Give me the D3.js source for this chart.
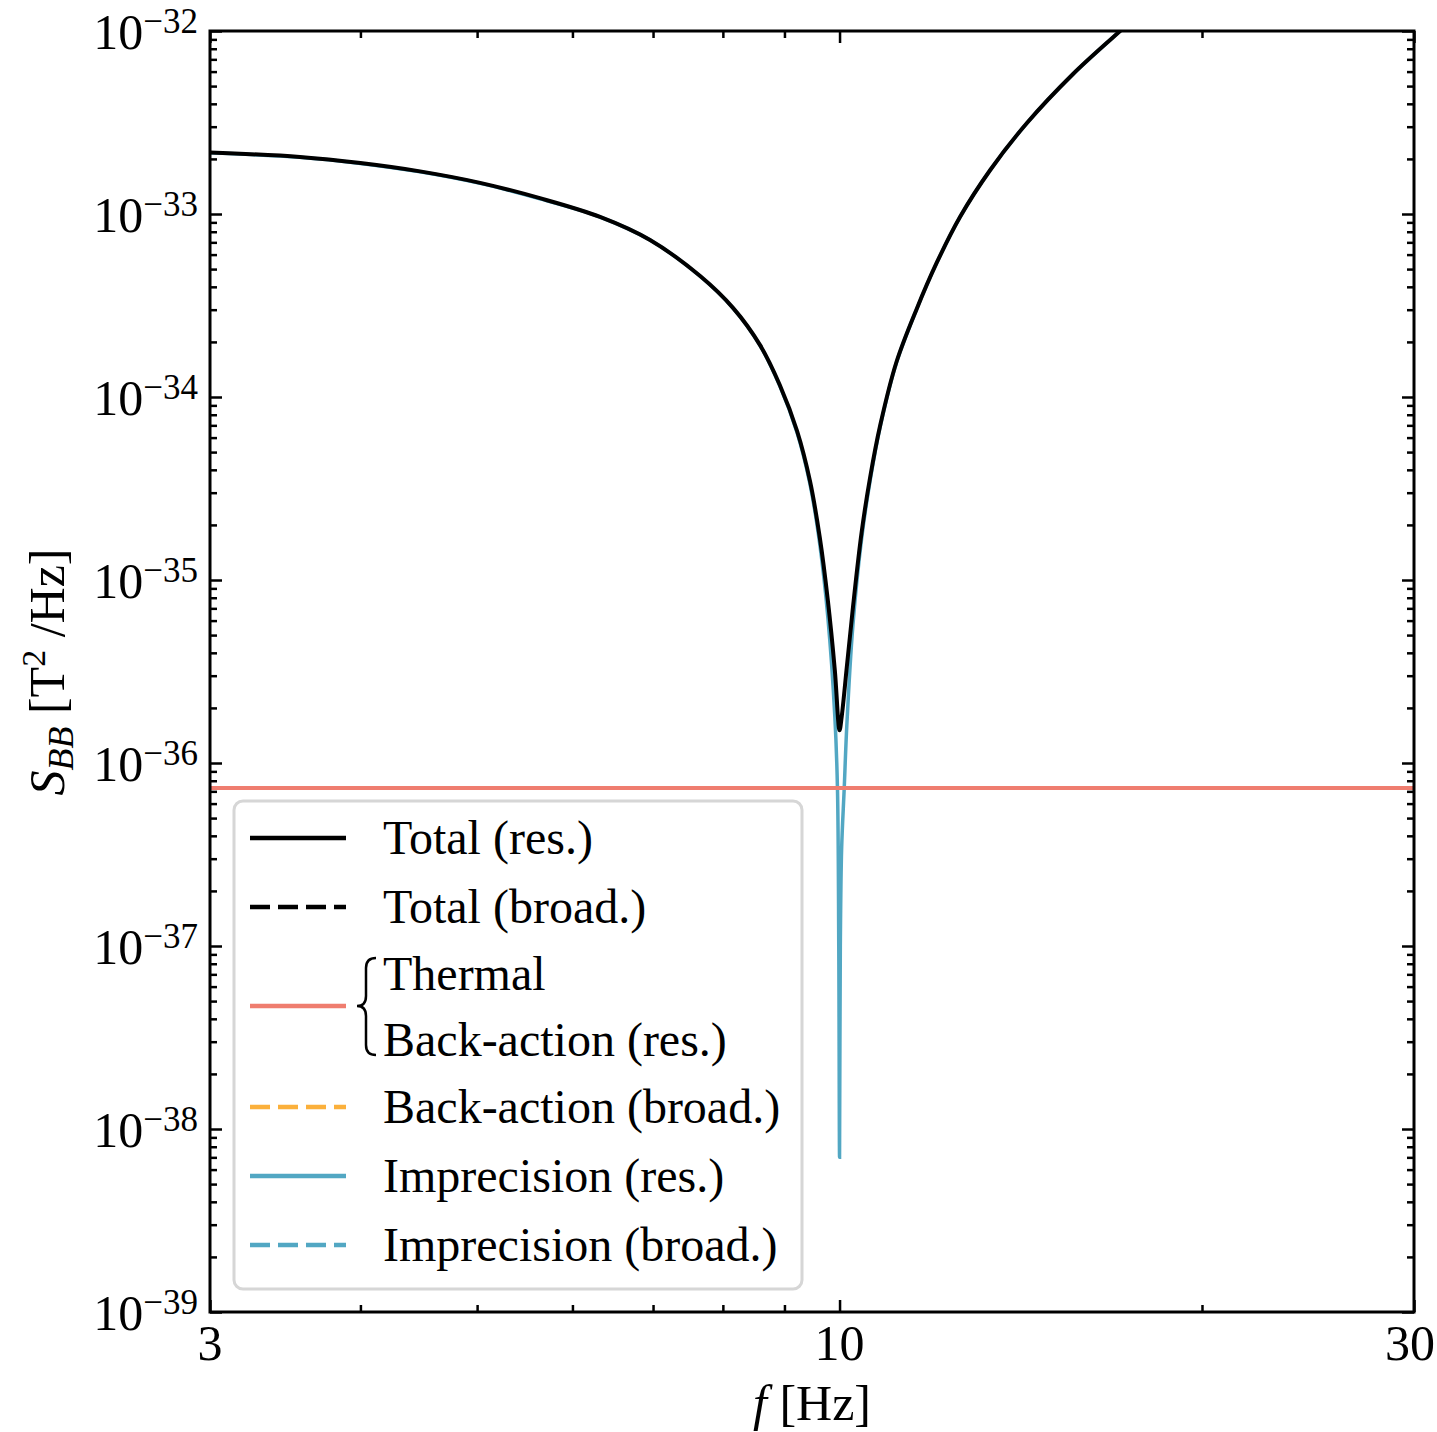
<!DOCTYPE html>
<html>
<head>
<meta charset="utf-8">
<script src="https://cdn.jsdelivr.net/npm/d3@7"></script>
<style>
  body { margin: 0; background: #fff; }
  text { font-family: "Liberation Serif", "Times New Roman", serif; fill: #000; }
</style>
</head>
<body>
<svg width="1437" height="1432"></svg>
<script>
// values
const freqTotal = [3.00, 3.563, 4.00, 4.483, 5.029, 5.638, 6.325, 6.96, 7.66, 8.16, 8.59, 8.92, 9.22, 9.45, 9.63,
  9.78, 9.91, 10.00, 10.04, 10.14, 10.26, 10.43, 10.60, 10.81, 11.15, 11.59, 12.04, 12.59, 13.34, 14.31, 15.63,
  17.10, 18.7];
const sbbTotal = [2.17e-33, 2.05e-33, 1.90e-33, 1.71e-33, 1.48e-33, 1.22e-33, 9.64e-34, 7.21e-34, 4.58e-34,
  3.06e-34, 1.92e-34, 1.163e-34, 6.52e-35, 3.48e-35, 1.70e-35, 7.68e-36, 3.22e-36, 1.51e-36, 1.78e-36, 3.35e-36,
  7.11e-36, 1.81e-35, 3.61e-35, 7.03e-35, 1.553e-34, 3.03e-34, 5.40e-34, 9.63e-34, 1.74e-33, 3.14e-33, 5.82e-33,
  1.00e-32, 1.70e-32];

const freqImp = [3.00, 3.563, 4.00, 4.483, 5.029, 5.638, 6.325, 6.96, 7.66, 8.16, 8.59, 8.92, 9.22, 9.45, 9.63,
  9.78, 9.91, 9.96, 9.985, 10.00, 10.015, 10.04, 10.09, 10.14, 10.26, 10.43, 10.60, 10.81, 11.15, 11.59, 12.04,
  12.59, 13.34, 14.31, 15.63, 17.10, 18.7];
const sbbImp = [2.16e-33, 2.04e-33, 1.89e-33, 1.70e-33, 1.47e-33, 1.21e-33, 9.63e-34, 7.20e-34, 4.57e-34,
  3.05e-34, 1.91e-34, 1.15e-34, 6.38e-35, 3.34e-35, 1.56e-35, 6.2e-36, 1.8e-36, 7.3e-37, 1.0e-37, 7.0e-39,
  1.0e-37, 3.4e-37, 7.3e-37, 1.6e-36, 5.7e-36, 1.67e-35, 3.46e-35, 6.9e-35, 1.54e-34, 3.02e-34, 5.39e-34,
  9.62e-34, 1.74e-33, 3.14e-33, 5.82e-33, 1.0e-32, 1.7e-32];

const freqThermal = [3, 30];
const sbbThermal = [7.3e-37, 7.3e-37];

const xMajor = [3, 10, 30];
const xMinor = [4, 5, 6, 7, 8, 9, 20];
const yExponents = [-39, -38, -37, -36, -35, -34, -33, -32];

const legendItems = [
  { label: ["Total (res.)"], color: "#000", dash: null },
  { label: ["Total (broad.)"], color: "#000", dash: "20,8" },
  { label: ["Thermal", "Back-action (res.)"], color: "#ef7d6f", dash: null },
  { label: ["Back-action (broad.)"], color: "#fbb03b", dash: "20,8" },
  { label: ["Imprecision (res.)"], color: "#52a7c3", dash: null },
  { label: ["Imprecision (broad.)"], color: "#52a7c3", dash: "20,8" }
];

let svg = d3.select("svg"),
  margin = { left: 210, right: 1414, top: 31, bottom: 1312 };

let x = d3.scaleLog().domain([3, 30]).range([margin.left, margin.right]),
  y = d3.scaleLog().domain([1e-39, 1e-32]).range([margin.bottom, margin.top]);

svg.append("defs").append("clipPath").attr("id", "plotclip")
  .append("rect").attr("x", margin.left).attr("y", margin.top)
  .attr("width", margin.right - margin.left).attr("height", margin.bottom - margin.top);

let line = d3.line()
  .curve(d3.curveCatmullRom.alpha(0.5))
  .x(d => x(d[0]))
  .y(d => y(d[1]));

let plot = svg.append("g").attr("clip-path", "url(#plotclip)");

plot.append("path")
  .attr("d", line(d3.zip(freqImp, sbbImp)))
  .attr("fill", "none").attr("stroke", "#52a7c3").attr("stroke-width", 3.5);

plot.append("path")
  .attr("d", line(d3.zip(freqThermal, sbbThermal)))
  .attr("fill", "none").attr("stroke", "#ef7d6f").attr("stroke-width", 4);

plot.append("path")
  .attr("d", line(d3.zip(freqTotal, sbbTotal)))
  .attr("fill", "none").attr("stroke", "#000").attr("stroke-width", 4)
  .attr("stroke-linejoin", "round");

// ticks, all pointing inward on the four sides
let yMinor = [];
yExponents.slice(0, -1).forEach(e => { for (let k = 2; k <= 9; k++) yMinor.push(k * Math.pow(10, e)); });
let yMajor = yExponents.map(e => Math.pow(10, e));

function tickAxis(axis, pos, vals, size) {
  let g = svg.append("g")
    .attr("transform", pos)
    .call(axis.tickValues(vals).tickSize(size).tickFormat(""));
  g.select(".domain").remove();
  g.selectAll("line").attr("stroke", "#000").attr("stroke-width", 2.5);
}
tickAxis(d3.axisBottom(x), "translate(0," + margin.bottom + ")", xMajor, -12);
tickAxis(d3.axisBottom(x), "translate(0," + margin.bottom + ")", xMinor, -7);
tickAxis(d3.axisTop(x), "translate(0," + margin.top + ")", xMajor, -12);
tickAxis(d3.axisTop(x), "translate(0," + margin.top + ")", xMinor, -7);
tickAxis(d3.axisLeft(y), "translate(" + margin.left + ",0)", yMajor, -12);
tickAxis(d3.axisLeft(y), "translate(" + margin.left + ",0)", yMinor, -7);
tickAxis(d3.axisRight(y), "translate(" + margin.right + ",0)", yMajor, -12);
tickAxis(d3.axisRight(y), "translate(" + margin.right + ",0)", yMinor, -7);

svg.append("rect")
  .attr("x", margin.left).attr("y", margin.top)
  .attr("width", margin.right - margin.left).attr("height", margin.bottom - margin.top)
  .attr("fill", "none").attr("stroke", "#000").attr("stroke-width", 3);

// tick labels
svg.selectAll(".xlab").data(xMajor).enter().append("text")
  .attr("x", d => Math.min(x(d), 1410)).attr("y", margin.bottom + 48)
  .attr("text-anchor", "middle").style("font-size", "50px")
  .text(d => d);

yExponents.forEach(e => {
  let t = svg.append("text")
    .attr("x", 198).attr("y", y(Math.pow(10, e)) + 18)
    .attr("text-anchor", "end").style("font-size", "50px");
  t.append("tspan").text("10");
  t.append("tspan").attr("dy", -16).style("font-size", "35px").text("\u2212" + Math.abs(e));
});

// axis titles
let xt = svg.append("text")
  .attr("x", 812).attr("y", 1420)
  .attr("text-anchor", "middle").style("font-size", "50px");
xt.append("tspan").style("font-style", "italic").text("f");
xt.append("tspan").text(" [Hz]");

let yt = svg.append("text")
  .attr("transform", "translate(64,672) rotate(-90)")
  .attr("text-anchor", "middle").style("font-size", "50px");
yt.append("tspan").style("font-style", "italic").text("S");
yt.append("tspan").attr("dy", 9).style("font-style", "italic").style("font-size", "36px").text("BB");
yt.append("tspan").attr("dy", -9).text(" [T");
yt.append("tspan").attr("dy", -19).style("font-size", "34px").text("2");
yt.append("tspan").attr("dy", 19).text(" /Hz]");

// legend
let legend = svg.append("g");
legend.append("rect")
  .attr("x", 234).attr("y", 801).attr("width", 568).attr("height", 488)
  .attr("rx", 9).attr("fill", "#fff").attr("fill-opacity", 0.9)
  .attr("stroke", "#d6d6d6").attr("stroke-width", 3);

let rowY = [838, 907, 1006, 1107, 1176, 1245];
legendItems.forEach((item, i) => {
  legend.append("line")
    .attr("x1", 250).attr("x2", 346)
    .attr("y1", rowY[i]).attr("y2", rowY[i])
    .attr("stroke", item.color).attr("stroke-width", 4.5)
    .attr("stroke-dasharray", item.dash);
  if (item.label.length === 1) {
    legend.append("text")
      .attr("x", 383).attr("y", rowY[i] + 16)
      .style("font-size", "48px").text(item.label[0]);
  } else {
    legend.append("text").attr("x", 383).attr("y", 990).style("font-size", "48px").text(item.label[0]);
    legend.append("text").attr("x", 383).attr("y", 1056).style("font-size", "48px").text(item.label[1]);
    legend.append("path")
      .attr("d", "M376,958 Q366,958 366,968 L366,996 Q366,1006 357,1006 Q366,1006 366,1016 L366,1045 Q366,1055 376,1055")
      .attr("fill", "none").attr("stroke", "#000").attr("stroke-width", 2.5);
  }
});
</script>
</body>
</html>
